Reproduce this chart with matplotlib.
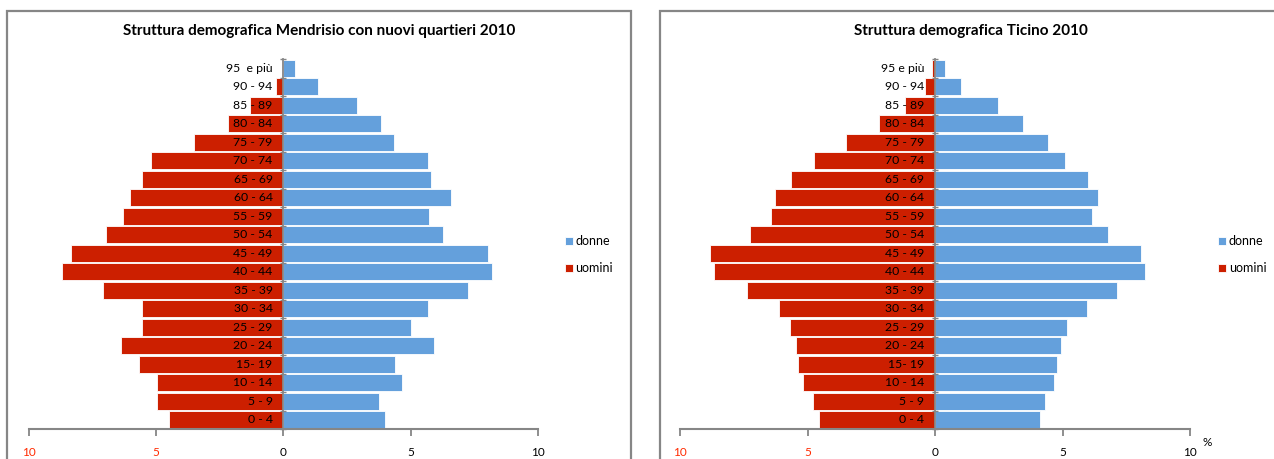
import matplotlib
matplotlib.use("Agg")
import matplotlib.pyplot as plt
from matplotlib.patches import Rectangle

plt.rcParams["font.family"] = ["Lato", "DejaVu Sans"]

eta = ["0 - 4", "5 - 9", "10 - 14", "15- 19", "20 - 24", "25 - 29", "30 - 34", "35 - 39",
       "40 - 44", "45 - 49", "50 - 54", "55 - 59", "60 - 64", "65 - 69", "70 - 74",
       "75 - 79", "80 - 84", "85 - 89", "90 - 94", "95 e più"]
eta_mendrisio = eta[:-1] + ["95  e più"]

# percentuali (uomini a sinistra, donne a destra)
mendrisio_uomini = [4.49, 4.94, 4.94, 5.67, 6.37, 5.56, 5.53, 7.08, 8.67, 8.34,
                    6.95, 6.29, 6.00, 5.56, 5.19, 3.50, 2.16, 1.29, 0.30, 0.06]
mendrisio_donne = [3.98, 3.74, 4.68, 4.39, 5.91, 5.03, 5.70, 7.27, 8.20, 8.04,
                   6.28, 5.73, 6.60, 5.78, 5.67, 4.35, 3.85, 2.88, 1.37, 0.45]
ticino_uomini = [4.57, 4.78, 5.19, 5.37, 5.48, 5.68, 6.13, 7.38, 8.68, 8.84,
                 7.25, 6.46, 6.30, 5.65, 4.75, 3.51, 2.19, 1.17, 0.40, 0.13]
ticino_donne = [4.13, 4.30, 4.67, 4.78, 4.95, 5.16, 5.94, 7.13, 8.24, 8.08,
                6.79, 6.17, 6.40, 5.98, 5.08, 4.41, 3.43, 2.48, 1.03, 0.38]

x_ticks = [-10, -5, 0, 5, 10]
x_labels = ["10", "5", "0", "5", "10"]
x_label_colors = ["#ff2a00", "#ff2a00", "black", "black", "black"]

ROSSO = "#cc1f00"
BLU = "#64a0dc"
GRIGIO = "#868686"
W, H = 1274, 459


def piramide(fig, rect, labels, uomini, donne, titolo, title_x, legend_x, percent=False):
    ax = fig.add_axes(rect)
    y = list(range(len(labels)))
    b_d = ax.barh(y, donne, height=0.93, color=BLU, edgecolor="white", linewidth=0.6, label="donne")
    b_u = ax.barh(y, [-v for v in uomini], height=0.93, color=ROSSO, edgecolor="white", linewidth=0.6, label="uomini")
    ax.set_xlim(-10, 10)
    ax.set_ylim(-0.5, len(labels) - 0.5)
    for s in ["top", "right"]:
        ax.spines[s].set_visible(False)
    ax.spines["left"].set_position(("data", 0))
    ax.spines["left"].set_color(GRIGIO)
    ax.spines["left"].set_linewidth(1.3)
    ax.spines["bottom"].set_color(GRIGIO)
    ax.spines["bottom"].set_linewidth(1.5)
    ax.set_yticks([i - 0.5 for i in range(len(labels) + 1)])
    ax.set_yticklabels([])
    ax.tick_params(axis="y", length=4, width=1, color=GRIGIO, direction="inout")
    ax.set_xticks(x_ticks)
    ax.set_xticklabels(x_labels, fontsize=8.5)
    for t, c in zip(ax.get_xticklabels(), x_label_colors):
        t.set_color(c)
    ax.tick_params(axis="x", length=5, width=1.3, color=GRIGIO, pad=8)
    for i, lab in enumerate(labels):
        ax.text(-0.42, i, lab, ha="right", va="center", fontsize=8.8, color="black")
    ax.patch.set_alpha(0)
    fig.text(title_x / W, 1 - 31 / H, titolo, ha="center", va="center", fontsize=11, fontweight="bold")
    ax.legend(handles=[b_d, b_u], loc="upper left", bbox_to_anchor=(legend_x / W, 1 - 235 / H),
              bbox_transform=fig.transFigure, frameon=False, fontsize=9,
              handlelength=0.6, handleheight=0.6, handletextpad=0.25, labelspacing=1.2,
              borderpad=0, borderaxespad=0)
    if percent:
        fig.text(1207 / W, 1 - 443 / H, "%", ha="center", va="center", fontsize=8.5)
    return ax


def plot_piramidi():
    fig = plt.figure(figsize=(W / 100, H / 100), dpi=100)
    fig.patches.append(Rectangle((7 / W, -0.1), 624 / W, 1.1 - 11 / H, transform=fig.transFigure,
                                 fill=False, edgecolor=GRIGIO, linewidth=1.6))
    fig.patches.append(Rectangle((660 / W, -0.1), 0.5, 1.1 - 11 / H, transform=fig.transFigure,
                                 fill=False, edgecolor=GRIGIO, linewidth=1.6))
    bottom = 30 / H
    height = 370 / H
    piramide(fig, [28.6 / W, bottom, 509.4 / W, height], eta_mendrisio, mendrisio_uomini,
             mendrisio_donne, "Struttura demografica Mendrisio con nuovi quartieri 2010", 319, 565)
    piramide(fig, [680.4 / W, bottom, 509.6 / W, height], eta, ticino_uomini,
             ticino_donne, "Struttura demografica Ticino 2010", 971, 1218, percent=True)
    fig.savefig("out.png", dpi=100)


plot_piramidi()
